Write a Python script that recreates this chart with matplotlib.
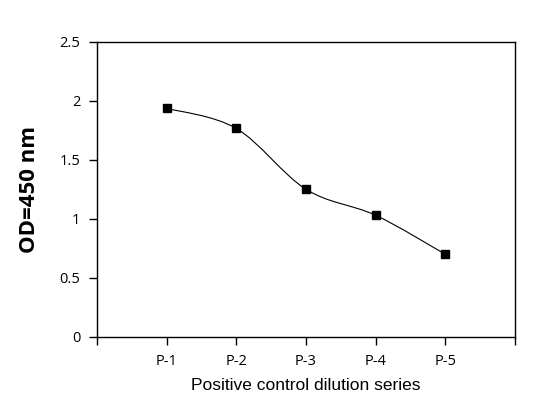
import numpy as np
import matplotlib.pyplot as plt
from matplotlib.path import Path
from matplotlib.patches import PathPatch

categories = ["P-1", "P-2", "P-3", "P-4", "P-5"]
od_values = [1.935, 1.765, 1.25, 1.03, 0.70]

x = np.arange(1, len(categories) + 1)
y = np.array(od_values)

fig = plt.figure(figsize=(5.42, 4.04), dpi=100)
axes = fig.add_axes([0.179, 0.166, 0.771, 0.731])

# smoothed line like excel (catmull-rom -> bezier)
verts = [(x[0], y[0])]
codes = [Path.MOVETO]
n = len(x)
for i in range(n - 1):
    x0, y0 = (x[i - 1], y[i - 1]) if i > 0 else (x[i], y[i])
    x3, y3 = (x[i + 2], y[i + 2]) if i + 2 < n else (x[i + 1], y[i + 1])
    c1 = (x[i] + (x[i + 1] - x0) / 6, y[i] + (y[i + 1] - y0) / 6)
    c2 = (x[i + 1] - (x3 - x[i]) / 6, y[i + 1] - (y3 - y[i]) / 6)
    verts += [c1, c2, (x[i + 1], y[i + 1])]
    codes += [Path.CURVE4] * 3
axes.add_patch(PathPatch(Path(verts, codes), fill=False, lw=0.8, color='k'))
axes.plot(x, y, 's', color='k', ms=6, zorder=3)

axes.set_xlim(0, 6)
axes.set_ylim(0, 2.5)
axes.set_xticks(range(0, 7))
axes.set_xticklabels([""] + categories + [""])
axes.set_yticks([0, 0.5, 1, 1.5, 2, 2.5])
axes.set_yticklabels(["0", "0.5", "1", "1.5", "2", "2.5"])
axes.tick_params(direction='out', length=6, width=1, labelsize=10.5, pad=6)
for lab in axes.get_xticklabels() + axes.get_yticklabels():
    lab.set_family('Open Sans')
for s in axes.spines.values():
    s.set_linewidth(1)

axes.set_xlabel('Positive control dilution series', fontsize=12.5,
                family='Liberation Sans', labelpad=7)
axes.set_ylabel('OD=450 nm', fontsize=16, fontweight='bold',
                family='Open Sans', labelpad=14)

fig.savefig("out.png", dpi=100)
